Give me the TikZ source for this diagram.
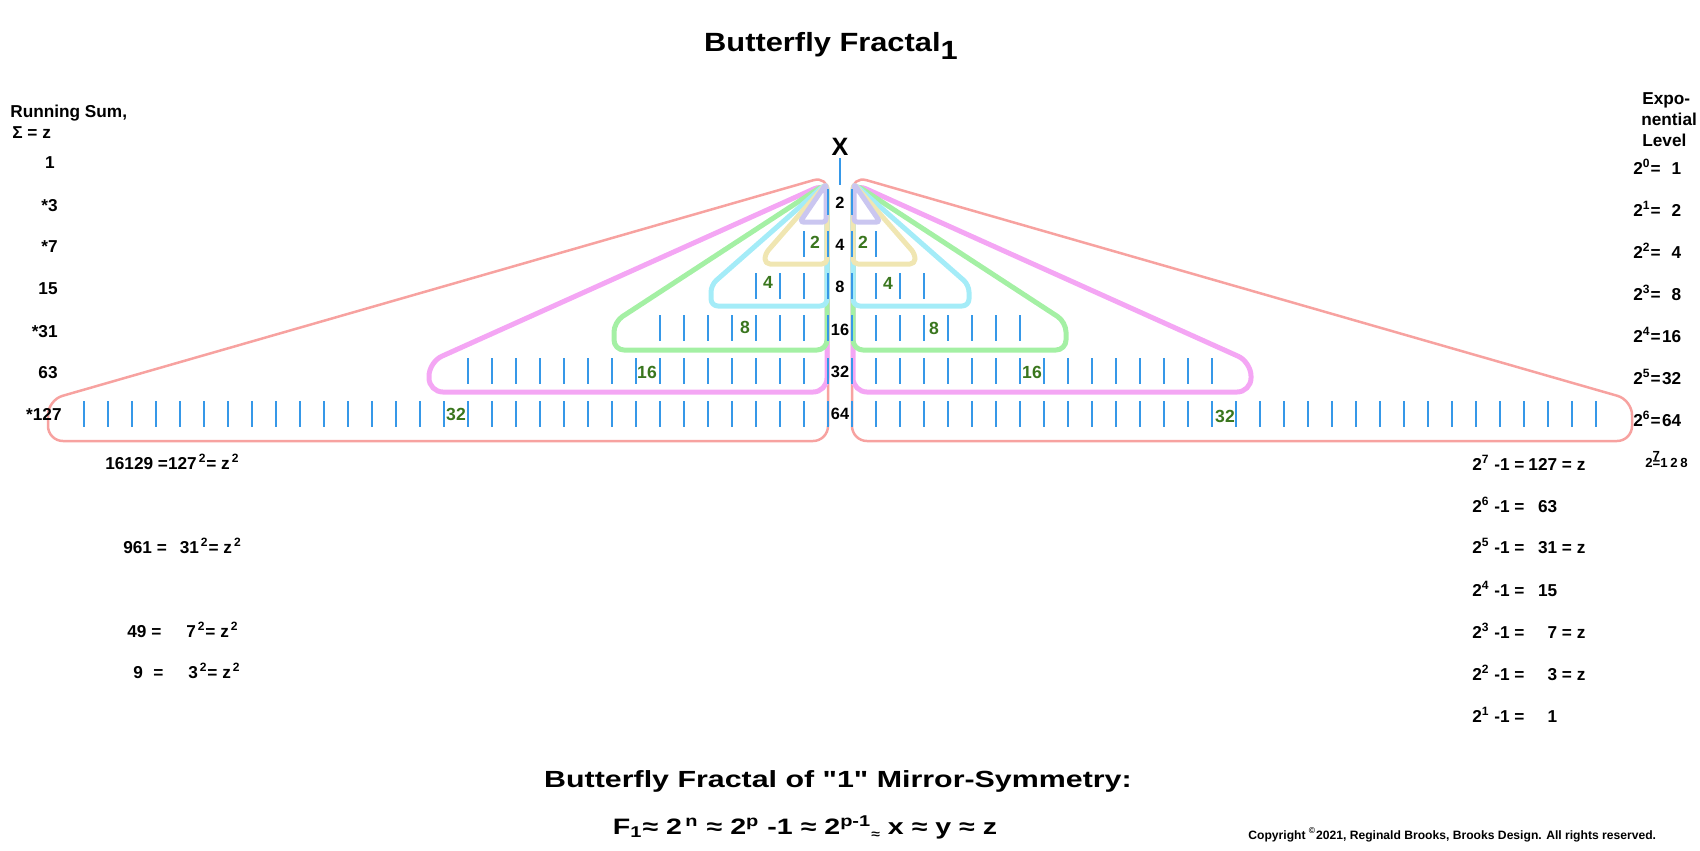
\documentclass[tikz,border=0pt]{standalone}
\usepackage{fontspec}
\setmainfont{Liberation Sans}
\newfontfamily\plainsans{Liberation Sans}
\usetikzlibrary{positioning}
\definecolor{wingred}{RGB}{247,162,160}
\definecolor{wingpink}{RGB}{244,166,244}
\definecolor{winggreen}{RGB}{164,240,164}
\definecolor{wingcyan}{RGB}{164,236,248}
\definecolor{wingyellow}{RGB}{240,230,178}
\definecolor{winglilac}{RGB}{202,198,240}
\definecolor{tickblue}{RGB}{54,152,232}
\definecolor{lblgreen}{RGB}{58,118,30}
\tikzset{wing/.style = {line width = 0.1cm, line join = round}}
\tikzset{vtick/.style = {tickblue, line width = 0.04cm}}
\tikzset{num/.style = {font = \bfseries\fontsize{9.8}{12}\selectfont, inner sep = 0, anchor = base}}
\tikzset{cnum/.style = {num, font = \bfseries\fontsize{9.3}{11}\selectfont}}
\tikzset{grn/.style = {num, text = lblgreen, font = \bfseries\fontsize{10}{11}\selectfont}}

\begin{document}
\begin{tikzpicture}[x=0.02cm, y=-0.02cm]
    \useasboundingbox (0,0) rectangle (1700,850);
    % the two wings, mirrored about x = 840
    \foreach \o/\s in {0/1, 1680/-1} {
      \begin{scope}[shift={(\o,0)}, xscale=\s]
        \draw [wing, wingred, line width = 0.05cm, rounded corners = 0.3cm]
          (828,300) -- (828,176) -- (48,400) -- (48,441) -- (828,441) -- cycle;
        \draw [wing, wingpink, rounded corners = 0.28cm]
          (827,300) -- (827,183) -- (429,362) -- (429,392) -- (827,392) -- cycle;
        \draw [wing, winggreen, rounded corners = 0.2cm]
          (827,300) -- (827,183) -- (614,322) -- (614,350) -- (827,350) -- cycle;
        \draw [wing, wingcyan, rounded corners = 0.14cm]
          (827,250) -- (827,183) -- (711,285) -- (711,306) -- (827,306) -- cycle;
        \draw [wing, wingyellow, rounded corners = 0.1cm]
          (827,230) -- (827,183) -- (765,254) -- (765,264) -- (827,264) -- cycle;
        \draw [wing, winglilac, rounded corners = 0.06cm]
          (826,205) -- (826,184) -- (800,222) -- (826,222) -- cycle;
        % ticks, 2^(n-1) per side
        \foreach \n/\y in {1/202, 2/244, 4/286, 8/328, 16/371, 32/414} {
          \foreach \k in {1,...,\n}
            \draw [vtick] ({852-24*\k}, \y-13) -- ({852-24*\k}, \y+13);
        }
      \end{scope}
    }

    \node [num, font = \bfseries\fontsize{15}{18}\selectfont] (title) at (831,51)
      {\scalebox{1.17}[1]{Butterfly Fractal\raisebox{-0.34em}{1}}};

    \node [num, font = \bfseries\fontsize{14.3}{16}\selectfont] (xtop) at (840,155) {X};
    \draw [vtick] (840,158) -- (840,185);

    % centre column
    \foreach \v/\y in {2/208, 4/250, 8/292, 16/335, 32/377, 64/419}
      \node [cnum] (c\v) at (840,\y) {\v};

    % green counts
    \node [grn] (gl2) at (815,248) {2};
    \node [grn] (gl4) at (768,288) {4};
    \node [grn] (gl8) at (745,333) {8};
    \node [grn] (gl16) at (647,378) {16};
    \node [grn] (gl32) at (456,420) {32};
    \node [grn] (gr2) at (863,248) {2};
    \node [grn] (gr4) at (888,289) {4};
    \node [grn] (gr8) at (934,334) {8};
    \node [grn] (gr16) at (1032,378) {16};
    \node [grn] (gr32) at (1225,422) {32};

    % running sum
    \node [num, anchor = base west] (rshead) at (10,117) {Running Sum,};
    \node [num, anchor = base west] (rssig) at (12,138) {Σ = z};
    \node [num, anchor = base east] (rs1) at (55,168) {1};
    \foreach \t/\y in {*3/211, *7/252, 15/294, *31/337, 63/378}
      \node [num, anchor = base east] (rs\y) at (58,\y) {\t};
    \node [num, anchor = base east] (rs127) at (62,420) {*127};

    % exponential level
    \node [num, anchor = base west] (exhead1) at (1642,104) {Expo-};
    \node [num, anchor = base west] (exhead2) at (1641,125) {nential};
    \node [num, anchor = base west] (exhead3) at (1642,146) {Level};
    \foreach \e/\v/\y in {0/1/174, 1/2/216, 2/4/258, 3/8/300, 4/16/342, 5/32/384, 6/64/426}
      \node [num, anchor = base west] (ex\e) at (1633,\y)
        {2\textsuperscript{\e}=\makebox[1.2em][r]{\v}};
    \node [num, anchor = base west, font = \bfseries\fontsize{7.5}{8}\selectfont] (ex7) at (1645,467)
      {2\rlap{\raisebox{0.5em}{7}}=1\hspace{0.2em}2\hspace{0.2em}8};

    % squares
    \node [num, anchor = base west] (sq127) at (105,469)
      {16129 =127\textsuperscript{\,2}= z\textsuperscript{\,2}};
    \node [num, anchor = base west] (sq31) at (123,553)
      {961 =\hspace{0.75em}31\textsuperscript{\,2}= z\textsuperscript{\,2}};
    \node [num, anchor = base west] (sq7) at (127,637)
      {49 =\hspace{1.45em}7\textsuperscript{\,2}= z\textsuperscript{\,2}};
    \node [num, anchor = base west] (sq3) at (133,678)
      {9\hspace{0.6em}=\hspace{1.45em}3\textsuperscript{\,2}= z\textsuperscript{\,2}};

    % mersenne column
    \foreach \e/\v/\z/\y in {7/127/ = z/470, 6/63//512, 5/31/ = z/553, 4/15//596,
                            3/7/ = z/638, 2/3/ = z/680, 1/1//722}
      \node [num, anchor = base west] (me\e) at (1472,\y)
        {2\textsuperscript{\e} -1 =\makebox[1.9em][r]{\v}\z};

    % bottom lines
    \node [num, font = \bfseries\fontsize{13.3}{16}\selectfont] (subtitle) at (838,787)
      {\scalebox{1.3}[1]{Butterfly Fractal of {\plainsans"1"} Mirror-Symmetry:}};
    \node [num, font = \bfseries\fontsize{12.7}{15}\selectfont] (formula) at (805,834)
      {\scalebox{1.28}[1]{F\textsubscript{1}≈ 2\textsuperscript{\,n} ≈ 2\textsuperscript{p} -1 ≈
        2\textsuperscript{p-1}\raisebox{-0.2em}{\scriptsize≈} x ≈ y ≈ z}};
    \node [num, anchor = base west, font = \bfseries\fontsize{6.9}{8}\selectfont] (copy) at (1248,839)
      {Copyright \textsuperscript{©}2021, Reginald Brooks, Brooks Design. All rights reserved.};
\end{tikzpicture}
\end{document}
